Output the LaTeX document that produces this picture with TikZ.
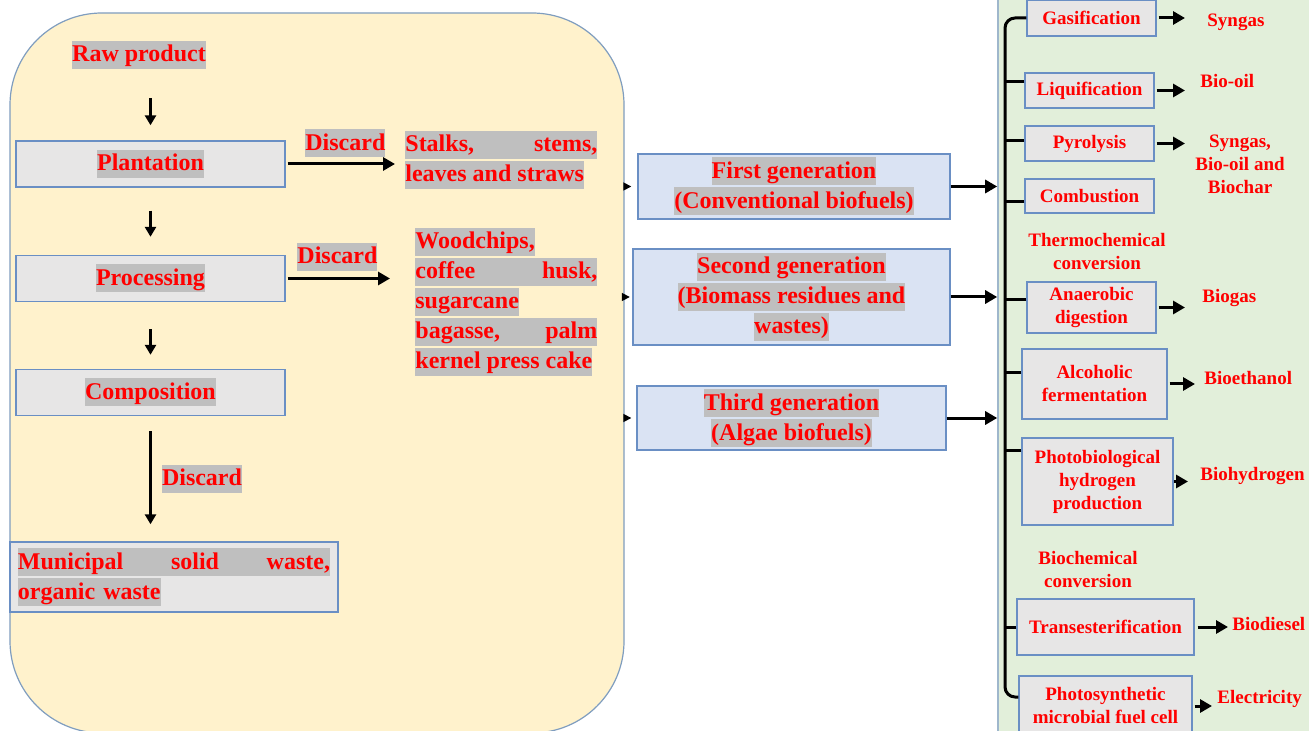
\documentclass[tikz,border=0pt]{standalone}
\usepackage{fontspec}
\setmainfont{Liberation Serif}
\usepackage{tikz}
\usetikzlibrary{positioning}
\usetikzlibrary{arrows.meta}
\definecolor{hlgray}{HTML}{BFBFBF}
\definecolor{areafill}{HTML}{FFF2CC}
\definecolor{areaborder}{HTML}{7F9DBF}
\definecolor{panelfill}{HTML}{E2EFDA}
\definecolor{panelborder}{HTML}{9FB7CC}
\definecolor{boxfill}{HTML}{E7E6E6}
\definecolor{boxborder}{HTML}{6A8FC4}
\definecolor{genfill}{HTML}{DAE3F3}
\newcommand{\hl}[1]{{\setlength{\fboxsep}{0pt}\colorbox{hlgray}{\rule[-3.5pt]{0pt}{14pt}#1}}}
\tikzstyle{line} = [draw, line width=1.5pt, -{Triangle[length=6pt,width=6.5pt]}]
\tikzstyle{smallline} = [draw, line width=1.3pt, -{Triangle[length=5pt,width=5.5pt]}]
\tikzstyle{tinyline} = [draw, line width=0.8pt, -{Triangle[length=4pt,width=4pt]}]

\begin{document}
\begin{tikzpicture}[x=0.5pt, y=-0.5pt, font=\bfseries\fontsize{12}{15}\selectfont, text=red, inner sep=0pt]

\tikzstyle{area} = [rectangle, draw=areaborder, fill=areafill, rounded corners=46pt, line width=0.6pt, minimum width=307pt, minimum height=360pt]
\tikzstyle{panel} = [rectangle, draw=panelborder, fill=panelfill, line width=0.8pt, minimum width=162pt, minimum height=368pt]
\tikzstyle{stage} = [rectangle, draw=boxborder, fill=boxfill, line width=0.7pt, minimum width=134.5pt, minimum height=23pt]
\tikzstyle{gen} = [rectangle, draw=boxborder, fill=genfill, line width=0.7pt, align=center]
\tikzstyle{method} = [rectangle, draw=boxborder, fill=boxfill, line width=0.7pt, align=center, font=\bfseries\fontsize{9.5}{11.5}\selectfont]
\tikzstyle{product} = [anchor=west, align=center, font=\bfseries\fontsize{9.5}{11.5}\selectfont]
\tikzstyle{convlabel} = [align=center, font=\bfseries\fontsize{9.5}{11.5}\selectfont]
\tikzstyle{bus} = [draw, line width=1.5pt]

\useasboundingbox (0,0) rectangle (1309,731);

% Backgrounds
\node [area] (region) at (317,373) {};
\node [panel] (panel) at (1160,367.5) {};

% Place nodes
\node (raw) at (139,55) {\hl{Raw product}};
\node [stage] (plant) at (150.5,164) {\hl{Plantation}};
\node [stage] (proc) at (150.5,278.5) {\hl{Processing}};
\node [stage] (comp) at (150.5,392.5) {\hl{Composition}};
\node [stage, minimum width=164pt, minimum height=35pt, text width=156pt, inner xsep=4pt, align=left] (msw) at (174,577)
  {\hl{\makebox[156pt]{Municipal\hfill solid\hfill waste,}}\\\hl{organic waste}};
\node [anchor=west, align=left] (stalks) at (405,160)
  {\hl{\makebox[96pt]{Stalks,\hfill stems,}}\\\hl{leaves and straws}};
\node [anchor=west, align=left] (woods) at (415,302)
  {\hl{Woodchips,}\\\hl{\makebox[91pt]{coffee\hfill husk,}}\\\hl{sugarcane}\\\hl{\makebox[91pt]{bagasse,\hfill palm}}\\\hl{kernel press cake}};

\node [gen, minimum width=156pt, minimum height=32.5pt] (gen1) at (794,186.5) {\hl{First generation}\\\hl{(Conventional biofuels)}};
\node [gen, minimum width=158.5pt, minimum height=48pt] (gen2) at (791.5,297) {\hl{Second generation}\\\hl{(Biomass residues and}\\\hl{wastes)}};
\node [gen, minimum width=154.5pt, minimum height=32pt] (gen3) at (791.5,418) {\hl{Third generation}\\\hl{(Algae biofuels)}};

\node [method, minimum width=64.5pt, minimum height=18pt] (gasif) at (1091.5,18) {Gasification};
\node [method, minimum width=64.5pt, minimum height=17.5pt] (liquif) at (1089.5,90.5) {Liquification};
\node [method, minimum width=64.5pt, minimum height=17.5pt] (pyro) at (1089.5,143.5) {Pyrolysis};
\node [method, minimum width=64.5pt, minimum height=17pt] (combust) at (1089.5,196) {Combustion};
\node [convlabel] (thermo) at (1097,252) {Thermochemical\\conversion};
\node [method, minimum width=64.5pt, minimum height=25.5pt] (anaer) at (1091.5,307.5) {Anaerobic\\digestion};
\node [method, minimum width=72.5pt, minimum height=35pt] (alco) at (1094.5,384) {Alcoholic\\fermentation};
\node [method, minimum width=75.5pt, minimum height=43.5pt] (photobio) at (1097.5,481.5) {Photobiological\\hydrogen\\production};
\node [convlabel] (biochem) at (1088,569) {Biochemical\\conversion};
\node [method, minimum width=88.5pt, minimum height=28pt] (trans) at (1105.5,627) {Transesterification};
\node [method, minimum width=86.5pt, minimum height=30pt] (photosyn) at (1105.5,706) {Photosynthetic\\microbial fuel cell};

\node [product] (syngas) at (1207,22) {Syngas};
\node [product] (biooil) at (1200,81) {Bio-oil};
\node [product] (pyroout) at (1195,164) {Syngas,\\Bio-oil and\\Biochar};
\node [product] (biogas) at (1202,298) {Biogas};
\node [product] (bioeth) at (1204,378) {Bioethanol};
\node [product] (biohyd) at (1200,476) {Biohydrogen};
\node [product] (biodiesel) at (1232,624) {Biodiesel};
\node [product] (elec) at (1217,699) {Electricity};

% Left chain
\path [smallline, shorten <=14.5pt, shorten >=7.5pt] (plant.north |- raw.south) -- (plant.north);
\path [smallline, shorten <=11.5pt, shorten >=9pt] (plant) -- (proc);
\path [smallline, shorten <=13.5pt, shorten >=7pt] (proc) -- (comp);
\path [smallline, line width=1.5pt, shorten <=7.5pt, shorten >=8.5pt] (comp.south) -- node[right=5pt] {\hl{Discard}} (comp.south |- msw.north);
\path [line, shorten <=1pt, shorten >=5pt] (plant.east) -- node[above=2.5pt] {\hl{Discard}} (plant.east -| stalks.west);
\path [line, shorten <=1pt, shorten >=12.5pt] (proc.east) -- node[pos=0.4, above=3pt] {\hl{Discard}} (proc.east -| woods.west);

% Into the generations
\path [tinyline, shorten >=3pt] (region.east |- gen1.west) -- (gen1.west);
\path [tinyline, shorten >=1.25pt] (region.east |- gen2.west) -- (gen2.west);
\path [tinyline, shorten >=2.5pt] (region.east |- gen3.west) -- (gen3.west);
\path [line] (gen1.east) -- (gen1.east -| panel.west);
\path [line] (gen2.east) -- (gen2.east -| panel.west);
\path [line] (gen3.east) -- (gen3.east -| panel.west);

% Conversion routes
\coordinate (bustop) at (1005,18);
\coordinate (busbot) at (1005,697);
\path [bus, rounded corners=5pt] (gasif.west) -- (bustop) -- (busbot) -- (busbot -| photosyn.west);
\foreach \n/\d in {liquif/4.25, pyro/1.25, combust/-3, anaer/3.75, alco/5.5, photobio/15.75, trans/0}{
  \coordinate (br) at ([yshift=\d pt]\n.west);
  \path [bus] (br) -- (br -| bustop);
}

\path [line, shorten <=1pt, shorten >=11pt] (gasif.east) -- (gasif.east -| syngas.west);
\path [line, shorten <=1pt, shorten >=7.5pt] (liquif.east) -- (liquif.east -| biooil.west);
\path [line, shorten <=1pt, shorten >=5pt] (pyro.east) -- (pyro.east -| pyroout.west);
\path [line, shorten <=1pt, shorten >=8.5pt] (anaer.east) -- (anaer.east -| biogas.west);
\path [line, shorten <=1pt, shorten >=4.5pt] (alco.east) -- (alco.east -| bioeth.west);
\path [line, shorten >=6pt] (photobio.east) -- (photobio.east -| biohyd.west);
\path [line, shorten <=1.5pt, shorten >=2pt] (trans.east) -- (trans.east -| biodiesel.west);
\path [line, shorten <=1pt, shorten >=2.5pt] (photosyn.east) -- (photosyn.east -| elec.west);

\end{tikzpicture}
\end{document}
